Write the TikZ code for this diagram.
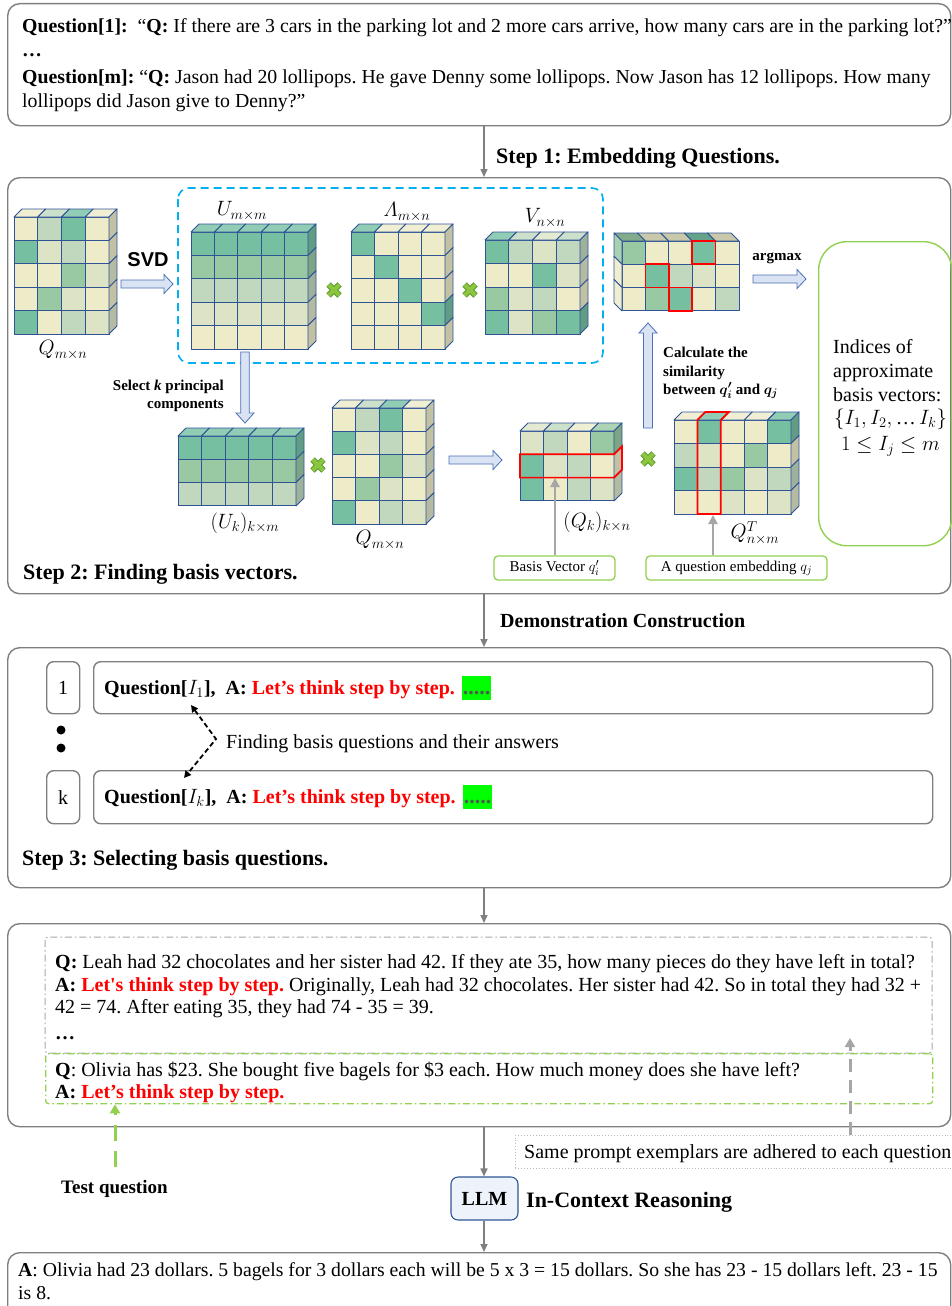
\documentclass[tikz,border=0pt]{standalone}
\usepackage{amsmath,bm}
\usepackage{fontspec}
\setmainfont{Liberation Serif}
\newfontfamily\sansbold{Liberation Sans}
\usetikzlibrary{arrows.meta}
\definecolor{c0}{HTML}{EDEBC8}
\definecolor{c1}{HTML}{DDE4C6}
\definecolor{c2}{HTML}{C1D8BF}
\definecolor{c3}{HTML}{98C9A2}
\definecolor{c4}{HTML}{76BFA1}
\definecolor{edge}{HTML}{2F5496}
\definecolor{boxgray}{HTML}{7F7F7F}
\definecolor{conngray}{HTML}{7F7F7F}
\definecolor{lgray}{HTML}{A6A6A6}
\definecolor{cyanb}{HTML}{00B0F0}
\definecolor{lgreen}{HTML}{92D050}
\definecolor{xgreen}{HTML}{8CC63F}
\definecolor{xdark}{HTML}{5E9A32}
\definecolor{arrfill}{HTML}{DAE3F3}
\definecolor{arrdraw}{HTML}{4A6FB5}
\definecolor{llmfill}{HTML}{EEF2FA}
\definecolor{llmblue}{HTML}{2F5597}
\definecolor{hlgreen}{HTML}{00FF00}
\definecolor{dotgray}{HTML}{4A5E4A}
\definecolor{redo}{HTML}{FF0000}

\newcommand\cubeR[7]{%
  \foreach \rr [count=\ii from 0] in {#7}{%
    \foreach \cc [count=\jj from 0] in \rr {%
      \filldraw[cellst, fill=c\cc] (#1+\jj*#3, #2+\ii*#4) rectangle ++(#3,#4);
      \ifnum\ii=0
        \filldraw[cellst, fill=c\cc!80!white] (#1+\jj*#3, #2) -- ++(#3,0) -- ++(#6,-#6) -- ++(-#3,0) -- cycle;
      \fi
      \ifnum\jj=\numexpr#5-1\relax
        \filldraw[cellst, fill=c\cc!82!black] (#1+#5*#3, #2+\ii*#4) -- ++(#6,-#6) -- ++(0,#4) -- ++(-#6,#6) -- cycle;
      \fi
    }%
  }%
}
\newcommand\cubeL[7]{%
  \foreach \rr [count=\ii from 0] in {#7}{%
    \foreach \cc [count=\jj from 0] in \rr {%
      \filldraw[cellst, fill=c\cc] (#1+\jj*#3, #2+\ii*#4) rectangle ++(#3,#4);
      \ifnum\ii=0
        \filldraw[cellst, fill=c\cc!85!black] (#1+\jj*#3, #2) -- ++(#3,0) -- ++(-#6,-#6) -- ++(-#3,0) -- cycle;
      \fi
      \ifnum\jj=0
        \filldraw[cellst, fill=c\cc!85!white] (#1, #2+\ii*#4) -- ++(-#6,-#6) -- ++(0,#4) -- ++(#6,#6) -- cycle;
      \fi
    }%
  }%
}
\newcommand\xmark[2]{%
  \draw[line width=6.2pt, draw=xdark] (#1-5.5,#2-5.5) -- (#1+5.5,#2+5.5) (#1-5.5,#2+5.5) -- (#1+5.5,#2-5.5);
  \draw[line width=4.2pt, draw=xgreen] (#1-5.2,#2-5.2) -- (#1+5.2,#2+5.2) (#1-5.2,#2+5.2) -- (#1+5.2,#2-5.2);
}
\newcommand\barrowR[3]{%
  \filldraw[barr] (#1,#3-4) -- (#2-9,#3-4) -- (#2-9,#3-9.5) -- (#2,#3) -- (#2-9,#3+9.5) -- (#2-9,#3+4) -- (#1,#3+4) -- cycle;}
\newcommand\barrowD[3]{%
  \filldraw[barr] (#1-4.3,#2) -- (#1-4.3,#3-10) -- (#1-9,#3-10) -- (#1,#3) -- (#1+9,#3-10) -- (#1+4.3,#3-10) -- (#1+4.3,#2) -- cycle;}
\newcommand\barrowU[3]{%
  \filldraw[barr] (#1-4.5,#2) -- (#1-4.5,#3+10) -- (#1-9,#3+10) -- (#1,#3) -- (#1+9,#3+10) -- (#1+4.5,#3+10) -- (#1+4.5,#2) -- cycle;}
\newcommand\hl{\hspace{7pt}{\setlength\fboxsep{0pt}\colorbox{hlgreen}{\rule[-6pt]{0pt}{24pt}\kern1pt\textcolor{dotgray}{\fontsize{22}{24}\selectfont.....}\kern1pt}}}

\tikzset{
  cellst/.style={draw=edge, line width=0.9pt, line join=round},
  box/.style={draw=boxgray, line width=1.4pt, rounded corners=12pt, inner sep=0pt, anchor=north west},
  ibox/.style={draw=boxgray, line width=1.4pt, rounded corners=7pt, inner sep=0pt, anchor=north west},
  conn/.style={draw=conngray, line width=1.6pt, -{Triangle[length=8pt,width=7pt]}},
  lconn/.style={draw=lgray, line width=2.6pt, -{Triangle[length=9pt,width=9pt]}},
  barr/.style={fill=arrfill, draw=arrdraw, line width=0.8pt},
  redline/.style={draw=redo, line width=1.7pt, line join=miter},
  tx/.style={inner sep=0pt, anchor=base west, font=\fontsize{20}{24}\selectfont},
  ttx/.style={inner sep=0pt, anchor=base west, font=\fontsize{19.8}{24}\selectfont},
  head/.style={inner sep=0pt, anchor=base west, font=\fontsize{22}{26}\selectfont\bfseries},
  sm/.style={inner sep=0pt, font=\fontsize{15}{18}\selectfont\bfseries},
  mlab/.style={inner sep=0pt, font=\fontsize{20}{24}\selectfont},
  lbox/.style={draw=lgreen, line width=1.3pt, rounded corners=4pt, inner sep=0pt, minimum height=24pt, font=\fontsize{15}{18}\selectfont},
}

\begin{document}
\frenchspacing
\begin{tikzpicture}[x=1pt,y=-1pt]
\useasboundingbox (0,0) rectangle (952,1306);
\coordinate (cx) at (484,0);

% ---------- top box
\node[box, minimum width=943pt, minimum height=122pt] (topbox) at (7,3) {};
\node[ttx] (t1) at (22,33) {\textbf{Question[1]:}\ \ “\textbf{Q:} If there are 3 cars in the parking lot and 2 more cars arrive, how many cars are in the parking lot?”};
\node[ttx] (t2) at (22,57) {\textbf{…}};
\node[ttx] (t3) at (22,83) {\textbf{Question[m]:} “\textbf{Q:} Jason had 20 lollipops. He gave Denny some lollipops. Now Jason has 12 lollipops. How many};
\node[ttx] (t4) at (22,107) {lollipops did Jason give to Denny?”};

% ---------- step 2 box
\node[box, minimum width=943pt, minimum height=416pt] (box2) at (7,177) {};
\draw[conn] (topbox.south -| cx) -- (box2.north -| cx);
\node[head] (s1) at (496,163) {Step 1: Embedding Questions.};

\draw[draw=cyanb, line width=1.6pt, dash pattern=on 8pt off 5pt, rounded corners=11pt] (178,188) rectangle (603,363);

% Q
\cubeR{14}{217}{23.75}{23.4}{4}{8}{{0,2,4,0},{4,1,2,0},{0,0,3,1},{0,3,1,0},{4,0,2,1}}
\node[mlab] (lq) at (63,350) {$Q_{m\times n}$};
\node[inner sep=0pt, font=\fontsize{20}{24}\sansbold\bfseries] (svd) at (148,260) {SVD};
\barrowR{121}{173}{284}

% U
\cubeR{191}{232}{23.4}{23.4}{5}{8}{{4,4,4,4,4},{3,3,3,3,3},{2,2,2,2,2},{1,1,1,1,1},{0,0,0,0,0}}
\node[mlab] (lu) at (242,211) {$U_{m\times m}$};
\xmark{334}{290}
% Lambda
\cubeR{351}{232}{23.5}{23.4}{4}{8}{{4,0,0,0},{0,4,0,0},{0,0,4,0},{0,0,0,4},{0,0,0,0}}
\node[mlab] (ll) at (407,212) {$\mathnormal{\Lambda}_{m\times n}$};
\xmark{470}{290}
% V
\cubeR{485}{240}{23.75}{23.5}{4}{8}{{4,2,1,2},{0,0,4,1},{3,1,2,0},{4,1,3,4}}
\node[mlab] (lv) at (545,218) {$V_{n\times n}$};

% similarity
\cubeL{622}{241}{23.4}{23.3}{5}{8}{{3,0,0,4,0},{0,4,2,1,0},{0,3,4,0,2}}
\draw[redline] (692.2,241) rectangle ++(23.4,23.3);
\draw[redline] (645.4,264.3) rectangle ++(23.4,23.3);
\draw[redline] (668.8,287.6) rectangle ++(23.4,23.3);
\node[sm] (argm) at (777,258) {argmax};
\barrowR{753}{806}{279}

% indices box
\node[draw=lgreen, line width=1.4pt, rounded corners=28pt, minimum width=133pt, minimum height=304pt, inner sep=0pt, anchor=north west] (ind) at (818,241) {};
\node[tx] (i1) at (833,353) {Indices of};
\node[tx] (i2) at (833,377) {approximate};
\node[tx] (i3) at (833,401) {basis vectors:};
\node[tx] (i4) at (834,424) {$\{I_1, I_2,\text{…}\, I_k\}$};
\node[tx] (i5) at (841,450) {$1\leq I_j\leq m$};

% select k
\node[sm, anchor=base east] (selk) at (224,390) {Select \textit{k} principal};
\node[sm, anchor=base east] (selk2) at (224,408) {components};
\barrowD{245}{352}{423}

% U_k
\cubeR{178}{436}{23.6}{23.3}{5}{8}{{4,4,4,4,4},{3,3,3,3,3},{2,2,2,2,2}}
\node[mlab] (luk) at (245,523) {$(U_k)_{k\times m}$};
\xmark{318}{465}
% Q copy
\cubeR{332}{408}{23.5}{23.2}{4}{8}{{0,2,4,0},{4,1,2,0},{0,0,3,1},{0,3,1,0},{4,0,2,1}}
\node[mlab] (lq2) at (380,540) {$Q_{m\times n}$};
\barrowR{449}{502}{460}

% Q_k
\cubeR{520}{431}{23.5}{23.3}{4}{8}{{1,2,0,3},{4,1,2,0},{4,0,2,1}}
\draw[redline] (520,454.3) -- (614,454.3) -- (622,446.3) -- (622,469.6) -- (614,477.6) -- (520,477.6) -- cycle;
\node[mlab] (lqk) at (597,522) {$(Q_k)_{k\times n}$};
\xmark{648}{459}
% Q^T
\cubeR{674}{420}{23.4}{23.5}{5}{8}{{0,4,0,0,4},{2,1,0,3,0},{4,2,3,1,2},{0,0,1,0,1}}
\draw[redline] (697.4,514) -- (697.4,420) -- (705.4,412) -- (728.8,412) -- (720.8,420) -- (720.8,514) -- cycle;
\node[mlab] (lqt) at (755,533) {$Q^T_{n\times m}$};

% similarity arrow and text
\barrowU{648}{428}{323}
\node[sm, anchor=base west] (calc1) at (663,357) {Calculate the};
\node[sm, anchor=base west] (calc2) at (663,376) {similarity};
\node[sm, anchor=base west] (calc3) at (663,394) {between $\bm{q'_i}$ and $\bm{q_j}$};

% label boxes
\node[lbox, minimum width=121pt] (bv) at (554.5,568) {Basis Vector $q'_i$};
\node[lbox, minimum width=181pt] (qe) at (736.5,568) {A question embedding $q_j$};
\coordinate (bvt) at (555,478);
\coordinate (qet) at (713,515);
\draw[lconn] (bv.north -| bvt) -- (bvt);
\draw[lconn] (qe.north -| qet) -- (qet);

\node[head] (s2) at (23,579) {Step 2: Finding basis vectors.};

% ---------- step 3 box
\node[box, minimum width=943pt, minimum height=240pt] (box3) at (7,647) {};
\draw[conn] (box2.south -| cx) -- (box3.north -| cx);
\node[inner sep=0pt, anchor=base west, font=\fontsize{20}{24}\selectfont\bfseries] (s2b) at (500,627) {Demonstration Construction};

\node[ibox, minimum width=33pt, minimum height=52pt, anchor=north west] (n1) at (46,661) {};
\node[tx, anchor=center] (n1t) at (n1.center) {1};
\node[ibox, minimum width=839pt, minimum height=52pt] (q1) at (93,661) {};
\node[tx, font=\fontsize{20}{24}\selectfont\bfseries] (q1t) at (104,694) {Question[$I_1$],\ \ A: \textcolor{redo}{Let’s think step by step.}\hl};

\fill (61,730) circle (4.5pt);
\fill (61,748) circle (4.5pt);

\node[ibox, minimum width=33pt, minimum height=53pt] (nk) at (46,770) {};
\node[tx, anchor=center] (nkt) at (nk.center) {k};
\node[ibox, minimum width=839pt, minimum height=53pt] (qk) at (93,770) {};
\node[tx, font=\fontsize{20}{24}\selectfont\bfseries] (qkt) at (104,803) {Question[$I_k$],\ \ A: \textcolor{redo}{Let’s think step by step.}\hl};

\coordinate (tip1) at (191,705);
\coordinate (bend) at (216,739);
\coordinate (tip2) at (184,778);
\draw[line width=1.8pt, dash pattern=on 5pt off 3pt, {Triangle[length=7pt,width=7pt]}-{Triangle[length=7pt,width=7pt]}] (tip1) -- (bend) -- (tip2);
\node[tx] (fb) at (226,748) {Finding basis questions and their answers};

\node[head] (s3) at (22,865) {Step 3: Selecting basis questions.};

% ---------- step 4 box
\node[box, minimum width=943pt, minimum height=203pt] (box4) at (7,923) {};
\draw[conn] (box3.south -| cx) -- (box4.north -| cx);
\draw[draw=lgray, line width=1pt, dash pattern=on 7pt off 3pt on 1.5pt off 3pt, rounded corners=3pt] (45,937) rectangle (932,1053);
\node[tx] (e1) at (55,968) {\textbf{Q:} Leah had 32 chocolates and her sister had 42. If they ate 35, how many pieces do they have left in total?};
\node[tx] (e2) at (55,991) {\textbf{A: \textcolor{redo}{Let\textquotesingle s think step by step.}} Originally, Leah had 32 chocolates. Her sister had 42. So in total they had 32 +};
\node[tx] (e3) at (55,1013) {42 = 74. After eating 35, they had 74 - 35 = 39.};
\node[tx] (e4) at (55,1039) {\textbf{…}};
\node[draw=lgreen, line width=1.3pt, dash pattern=on 7pt off 3pt on 1.5pt off 3pt, rounded corners=3pt, minimum width=887pt, minimum height=50pt, inner sep=0pt, anchor=north west] (tq) at (45,1053) {};
\node[tx] (e5) at (55,1076) {\textbf{Q}: Olivia has \$23. She bought five bagels for \$3 each. How much money does she have left?};
\node[tx] (e6) at (55,1098) {\textbf{A: \textcolor{redo}{Let’s think step by step.}}};

% ---------- LLM
\node[draw=llmblue, fill=llmfill, rounded corners=7pt, line width=1.1pt, minimum width=67pt, minimum height=43pt, inner sep=0pt, font=\fontsize{20}{24}\selectfont\bfseries] (llm) at (484.5,1198.5) {LLM};
\draw[conn] (box4.south -| cx) -- (llm.north -| cx);
\node[head] (icr) at (526,1207) {In-Context Reasoning};

\node[draw=lgray!80, dotted, line width=0.9pt, minimum width=445pt, minimum height=33pt, inner sep=0pt, anchor=north west] (same) at (515,1135) {};
\node[tx] (samet) at (524,1158) {Same prompt exemplars are adhered to each question};
\coordinate (gup) at (850,1038);
\draw[draw=lgray, line width=3pt, dash pattern=on 13pt off 8pt, -{Triangle[length=9pt,width=10pt]}] (same.north -| gup) -- (gup);

\node[tx, font=\fontsize{19}{23}\selectfont\bfseries] (testq) at (61,1193) {Test question};
\coordinate (tqs) at (115,1167);
\draw[draw=lgreen, line width=3pt, dash pattern=on 16pt off 10pt, -{Triangle[length=9pt,width=10pt]}] (tqs) -- (tq.south -| tqs);

% ---------- answer
\node[box, minimum width=943pt, minimum height=80pt] (ans) at (7,1252) {};
\draw[conn] (llm.south -| cx) -- (ans.north -| cx);
\node[ttx, font=\fontsize{19.7}{24}\selectfont] (a1) at (18,1276) {\textbf{A}: Olivia had 23 dollars. 5 bagels for 3 dollars each will be 5 x 3 = 15 dollars. So she has 23 - 15 dollars left. 23 - 15};
\node[ttx, font=\fontsize{19.7}{24}\selectfont] (a2) at (18,1299) {is 8.};
\end{tikzpicture}
\end{document}
